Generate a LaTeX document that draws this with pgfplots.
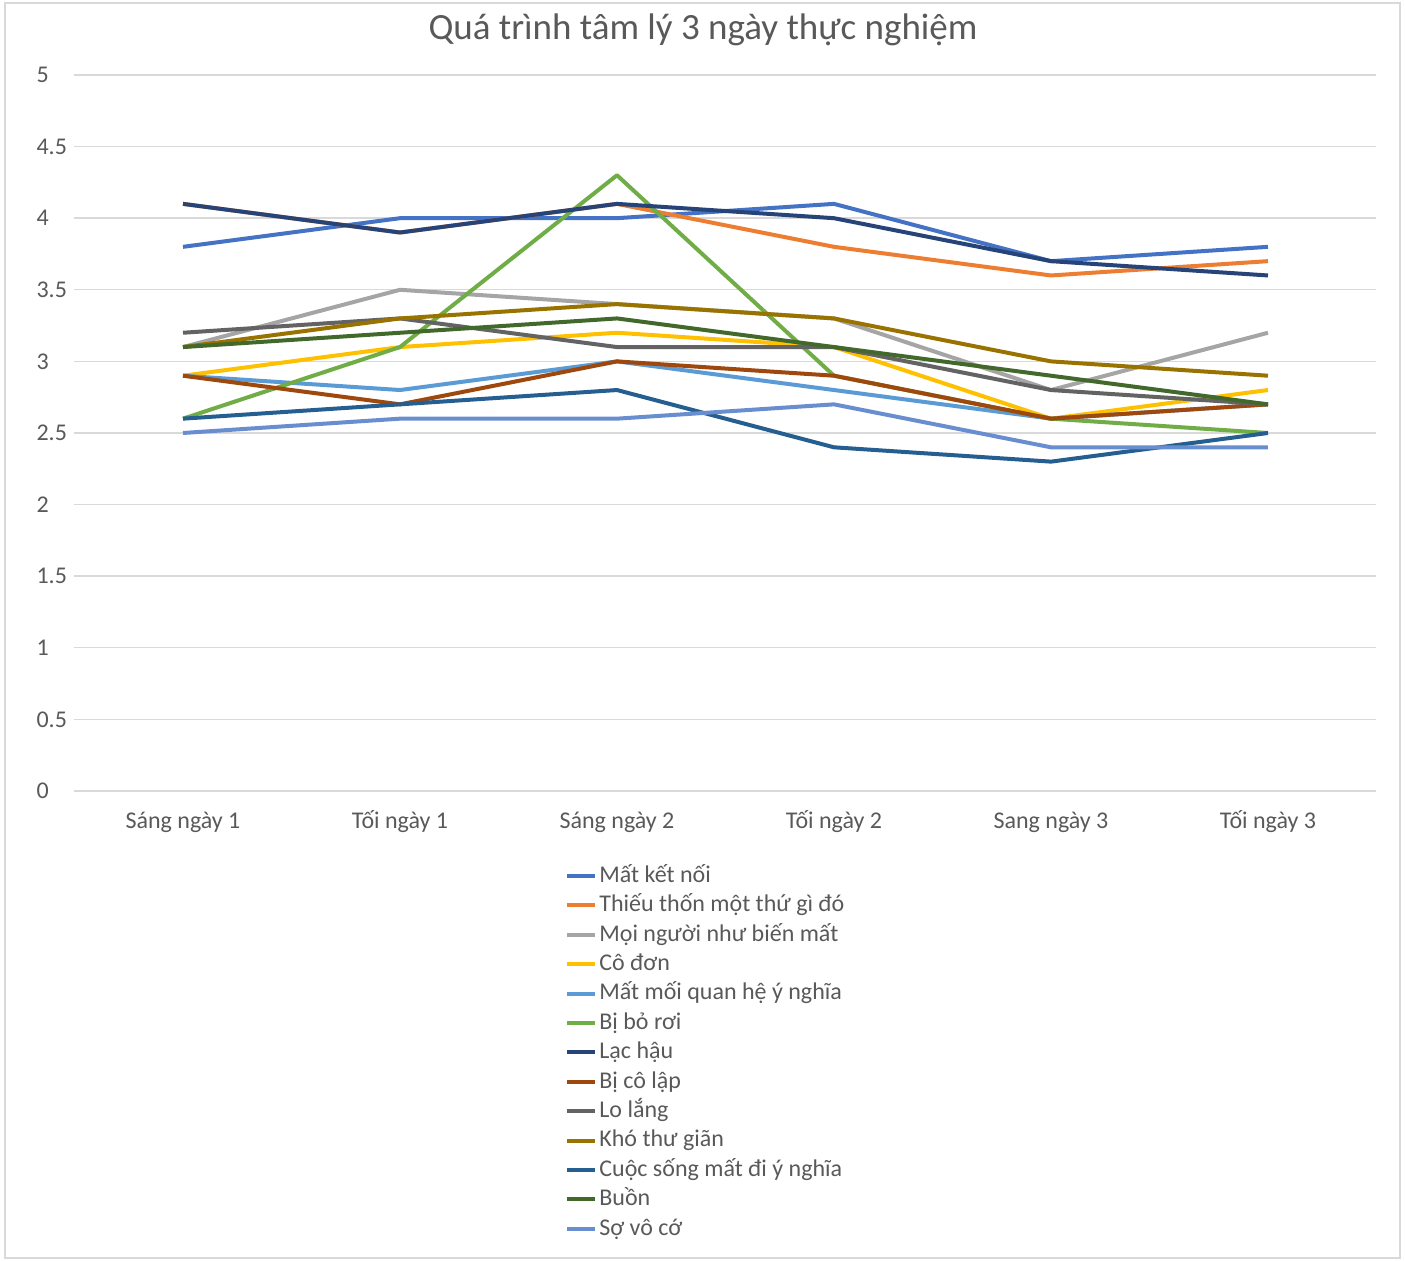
\documentclass[border=0pt]{standalone}
\usepackage{pgfplots}
\pgfplotsset{compat=1.18}
\usepackage{fontspec}
\setmainfont{Carlito}
\definecolor{txt}{HTML}{595959}
\definecolor{grd}{HTML}{D9D9D9}
\definecolor{c1}{HTML}{4472C4}
\definecolor{c2}{HTML}{ED7D31}
\definecolor{c3}{HTML}{A5A5A5}
\definecolor{c4}{HTML}{FFC000}
\definecolor{c5}{HTML}{5B9BD5}
\definecolor{c6}{HTML}{70AD47}
\definecolor{c7}{HTML}{264478}
\definecolor{c8}{HTML}{9E480E}
\definecolor{c9}{HTML}{636363}
\definecolor{c10}{HTML}{997300}
\definecolor{c11}{HTML}{255E91}
\definecolor{c12}{HTML}{43682B}
\definecolor{c13}{HTML}{698ED0}
\begin{document}
\begin{tikzpicture}
\useasboundingbox (0,0) rectangle (702.5pt,630.5pt);
\draw[grd, line width=0.6pt] (2.5pt,1.5pt) rectangle (700pt,629pt);
\begin{axis}[
  at={(37.25pt,235pt)}, anchor=south west,
  scale only axis, width=651pt, height=358pt,
  xmin=-0.5, xmax=5.5, ymin=0, ymax=5,
  xtick={0,1,2,3,4,5},
  xticklabels={Sáng ngày 1,Tối ngày 1,Sáng ngày 2,Tối ngày 2,Sang ngày 3,Tối ngày 3},
  ytick={0,0.5,1,1.5,2,2.5,3,3.5,4,4.5,5},
  yticklabels={0,0.5,1,1.5,2,2.5,3,3.5,4,4.5,5},
  /pgf/number format/assume math mode=true,
  ymajorgrids, grid style={grd, line width=0.7pt},
  axis x line*=bottom, axis y line*=left,
  x axis line style={grd, line width=0.7pt, -},
  y axis line style={draw=none},
  major tick length=0pt,
  tick label style={font=\fontsize{12}{14}\selectfont, text=txt},
  yticklabel style={anchor=west, xshift=-22.5pt},
  xticklabel style={yshift=-6pt, text height=9pt, text depth=2.5pt},
  title={Quá trình tâm lý 3 ngày thực nghiệm},
  title style={font=\fontsize{18.5}{21}\selectfont, text=txt, at={(0.5,1)}, anchor=center, yshift=16.5pt, xshift=-11.25pt},
  legend style={at={(0.3721,-0.092)}, anchor=north west, draw=none, fill=none,
    font=\fontsize{12}{14}\selectfont, text=txt, row sep=0pt,
    nodes={text height=8.5pt, text depth=2.2pt, inner ysep=2pt, inner xsep=1pt}},
  legend cell align=left,
  legend image code/.code={\draw[#1, line width=2pt] (0pt,0pt) -- (14pt,0pt);},
  every axis plot/.append style={line width=2pt, line join=round, no markers},
]
\addplot[c1] coordinates {(0,3.8) (1,4.0) (2,4.0) (3,4.1) (4,3.7) (5,3.8)};
\addlegendentry{Mất kết nối}
\addplot[c2] coordinates {(0,4.1) (1,3.9) (2,4.1) (3,3.8) (4,3.6) (5,3.7)};
\addlegendentry{Thiếu thốn một thứ gì đó}
\addplot[c3] coordinates {(0,3.1) (1,3.5) (2,3.4) (3,3.3) (4,2.8) (5,3.2)};
\addlegendentry{Mọi người như biến mất}
\addplot[c4] coordinates {(0,2.9) (1,3.1) (2,3.2) (3,3.1) (4,2.6) (5,2.8)};
\addlegendentry{Cô đơn}
\addplot[c5] coordinates {(0,2.9) (1,2.8) (2,3.0) (3,2.8) (4,2.6) (5,2.7)};
\addlegendentry{Mất mối quan hệ ý nghĩa}
\addplot[c6] coordinates {(0,2.6) (1,3.1) (2,4.3) (3,2.9) (4,2.6) (5,2.5)};
\addlegendentry{Bị bỏ rơi}
\addplot[c7] coordinates {(0,4.1) (1,3.9) (2,4.1) (3,4.0) (4,3.7) (5,3.6)};
\addlegendentry{Lạc hậu}
\addplot[c8] coordinates {(0,2.9) (1,2.7) (2,3.0) (3,2.9) (4,2.6) (5,2.7)};
\addlegendentry{Bị cô lập}
\addplot[c9] coordinates {(0,3.2) (1,3.3) (2,3.1) (3,3.1) (4,2.8) (5,2.7)};
\addlegendentry{Lo lắng}
\addplot[c10] coordinates {(0,3.1) (1,3.3) (2,3.4) (3,3.3) (4,3.0) (5,2.9)};
\addlegendentry{Khó thư giãn}
\addplot[c11] coordinates {(0,2.6) (1,2.7) (2,2.8) (3,2.4) (4,2.3) (5,2.5)};
\addlegendentry{Cuộc sống mất đi ý nghĩa}
\addplot[c12] coordinates {(0,3.1) (1,3.2) (2,3.3) (3,3.1) (4,2.9) (5,2.7)};
\addlegendentry{Buồn}
\addplot[c13] coordinates {(0,2.5) (1,2.6) (2,2.6) (3,2.7) (4,2.4) (5,2.4)};
\addlegendentry{Sợ vô cớ}
\end{axis}
\end{tikzpicture}
\end{document}
